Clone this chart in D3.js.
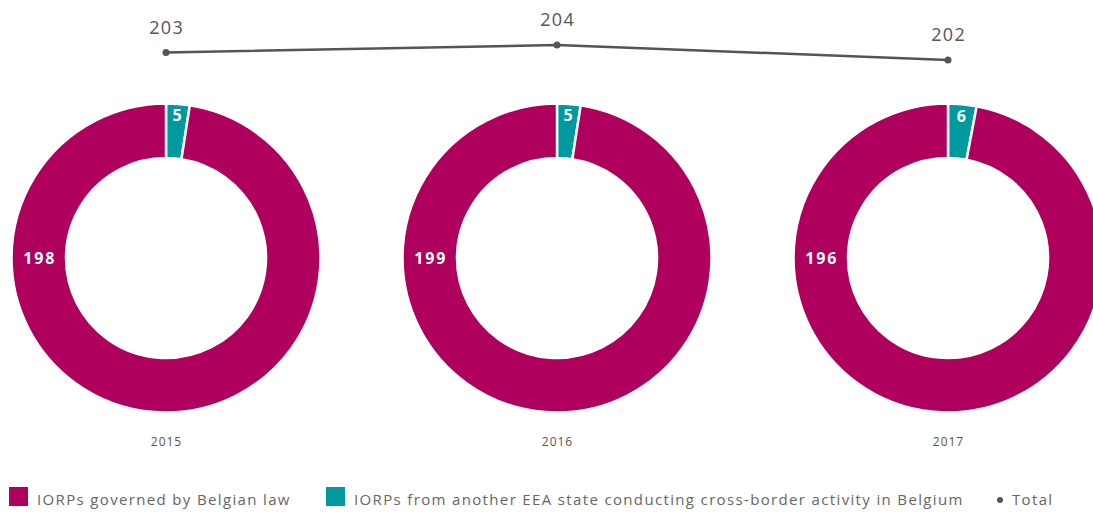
<!DOCTYPE html>
<html>
<head>
<meta charset="utf-8">
<script src="https://cdn.jsdelivr.net/npm/d3@7"></script>
<style>
  html, body { margin: 0; padding: 0; background: #fff; }
  svg { display: block; }
  text { font-family: "Open Sans", "DejaVu Sans", sans-serif; }
</style>
</head>
<body>
<svg id="chart" width="1093" height="514"></svg>
<script>
// Number of IORPs active in Belgium, per year
const years = ["2015", "2016", "2017"];
const belgianLaw = [198, 199, 196];
const crossBorder = [5, 5, 6];
const totals = [203, 204, 202];

const seriesNames = [
  "IORPs governed by Belgian law",
  "IORPs from another EEA state conducting cross-border activity in Belgium"
];
const totalName = "Total";

const colMagenta = "#b0005e";
const colTeal = "#00999f";
const colLine = "#555555";

const svg = d3.select("#chart");

const x = d3.scalePoint().domain(years).range([166, 948]);
const yTotal = d3.scaleLinear().domain([202, 204]).range([60, 45]);

const cy = 258;
const rOuter = 154.5;
const rInner = 100;

const pie = d3.pie().sort(null).value(d => d.value);
const arc = d3.arc().innerRadius(rInner).outerRadius(rOuter);
const smallLabelArc = d3.arc().innerRadius(132).outerRadius(154);

// centred text with letter-spacing: nudge right by half the trailing gap
function centred(sel, spacing) {
  return sel.attr("text-anchor", "middle")
    .attr("letter-spacing", spacing)
    .attr("dx", spacing / 2);
}

years.forEach((yr, i) => {
  const g = svg.append("g").attr("transform", `translate(${x(yr)},${cy})`);
  const data = [
    { key: "cross", value: crossBorder[i], color: colTeal },
    { key: "belgian", value: belgianLaw[i], color: colMagenta }
  ];
  const arcs = pie(data);
  g.selectAll("path")
    .data(arcs)
    .join("path")
    .attr("d", arc)
    .attr("fill", d => d.data.color)
    .attr("stroke", "#fff")
    .attr("stroke-width", 2.5)
    .attr("stroke-linejoin", "miter");

  // value on the small (cross-border) slice
  const c = smallLabelArc.centroid(arcs[0]);
  g.append("text")
    .attr("x", c[0]).attr("y", c[1])
    .call(centred, 1.5)
    .attr("dominant-baseline", "central")
    .attr("fill", "#fff")
    .attr("font-weight", 700)
    .attr("font-size", 16)
    .text(crossBorder[i]);

  // value on the large slice, placed on the left of the ring
  g.append("text")
    .attr("x", -(rInner + rOuter) / 2).attr("y", 0)
    .call(centred, 1.8)
    .attr("dominant-baseline", "central")
    .attr("fill", "#fff")
    .attr("font-weight", 700)
    .attr("font-size", 16)
    .text(belgianLaw[i]);

  // year under each ring
  svg.append("text")
    .attr("x", x(yr)).attr("y", 446)
    .call(centred, 1)
    .attr("fill", "#555")
    .attr("font-size", 12)
    .text(yr);
});

// total line across the years
const line = d3.line().x((d, i) => x(years[i])).y(d => yTotal(d));
svg.append("path")
  .datum(totals)
  .attr("d", line)
  .attr("fill", "none")
  .attr("stroke", colLine)
  .attr("stroke-width", 2.5);

svg.selectAll("circle.tot")
  .data(totals)
  .join("circle")
  .attr("class", "tot")
  .attr("cx", (d, i) => x(years[i]))
  .attr("cy", d => yTotal(d))
  .attr("r", 3.5)
  .attr("fill", colLine);

svg.selectAll("text.tot")
  .data(totals)
  .join("text")
  .attr("class", "tot")
  .attr("x", (d, i) => x(years[i]))
  .attr("y", d => yTotal(d) - 19)
  .call(centred, 1.3)
  .attr("fill", colLine)
  .attr("font-size", 18)
  .attr("font-weight", 500)
  .text(d => d);

// legend
const legend = svg.append("g").attr("class", "legend");
const legendItems = [
  { name: seriesNames[0], color: colMagenta, x: 9 },
  { name: seriesNames[1], color: colTeal, x: 326 }
];
legendItems.forEach(it => {
  legend.append("rect")
    .attr("x", it.x).attr("y", 487)
    .attr("width", 19).attr("height", 19)
    .attr("fill", it.color);
  legend.append("text")
    .attr("x", it.x + 28).attr("y", 505)
    .attr("fill", "#666")
    .attr("font-size", 15)
    .attr("letter-spacing", 1.35)
    .text(it.name);
});
legend.append("circle")
  .attr("cx", 1000).attr("cy", 500)
  .attr("r", 3)
  .attr("fill", colLine);
legend.append("text")
  .attr("x", 1012).attr("y", 505)
  .attr("fill", "#666")
  .attr("font-size", 15)
  .attr("letter-spacing", 1.35)
  .text(totalName);
</script>
</body>
</html>
